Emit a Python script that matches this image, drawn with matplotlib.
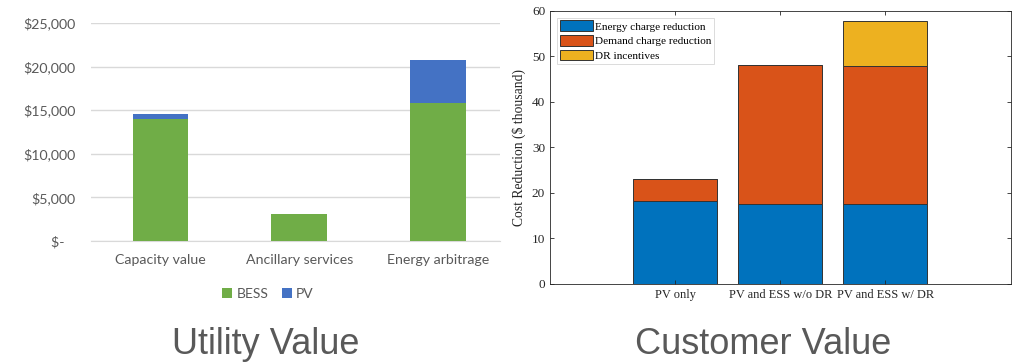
import matplotlib
matplotlib.use("Agg")
import matplotlib.pyplot as plt
import numpy as np

# left chart data (utility value, $)
util_cats = ['Capacity value', 'Ancillary services', 'Energy arbitrage']
util_bess = [14000, 3100, 15800]
util_pv = [550, 0, 5000]
util_ticks = [0, 5000, 10000, 15000, 20000, 25000]
util_ticklabels = ['$-   ', '$5,000', '$10,000', '$15,000', '$20,000', '$25,000']

# right chart data (customer value, $ thousand)
cust_cats = ['PV only', 'PV and ESS w/o DR', 'PV and ESS w/ DR']
energy_red = [18.3, 17.5, 17.5]
demand_red = [4.7, 30.5, 30.3]
dr_incent = [0, 0, 9.9]

W, H = 1025, 363
fig = plt.figure(figsize=(W / 100, H / 100), dpi=100)


def px_axes(x0, y0, x1, y1):
  return fig.add_axes([x0 / W, 1 - y1 / H, (x1 - x0) / W, (y1 - y0) / H])


# ---- Utility value (Excel style) ----
ax1 = px_axes(91, 23, 500, 241)
x = np.arange(len(util_cats))
ax1.bar(x, util_bess, width=0.4, color='#70AD47', label='BESS', zorder=3)
ax1.bar(x, util_pv, width=0.4, bottom=util_bess, color='#4472C4', label='PV', zorder=3)
ax1.set_xlim(-0.5, 2.446)
ax1.set_ylim(0, 25000)
ax1.set_yticks(util_ticks)
ax1.set_yticklabels(util_ticklabels)
ax1.set_xticks(x)
ax1.set_xticklabels(util_cats)
ax1.grid(axis='y', color='#D9D9D9', lw=1, zorder=0)
for s in ['top', 'right', 'left']:
  ax1.spines[s].set_visible(False)
ax1.spines['bottom'].set_color('#D9D9D9')
ax1.tick_params(length=0, labelsize=10.2, labelcolor='#595959', pad=11)
ax1.tick_params(axis='x', pad=9)
for t in ax1.get_xticklabels() + ax1.get_yticklabels():
  t.set_fontfamily('Lato')
ax1.legend(loc='center', bbox_to_anchor=(268 / W, 1 - 294 / H), bbox_transform=fig.transFigure,
           ncol=2, frameon=False, handlelength=0.7, handleheight=0.7, handletextpad=0.3,
           columnspacing=1.0, prop={'family': 'Lato', 'size': 10}, labelcolor='#595959')

# ---- Customer value (MATLAB style) ----
ax2 = px_axes(550, 10.7, 1011, 284)
x2 = np.arange(len(cust_cats))
b1 = np.array(energy_red)
b2 = b1 + np.array(demand_red)
ax2.bar(x2, energy_red, width=0.8, color='#0072BD', edgecolor='#333333', lw=0.7,
        label='Energy charge reduction')
ax2.bar(x2, demand_red, width=0.8, bottom=b1, color='#D95319', edgecolor='#333333', lw=0.7,
        label='Demand charge reduction')
ax2.bar(x2, dr_incent, width=0.8, bottom=b2, color='#EDB120', edgecolor='#333333', lw=0.7,
        label='DR incentives')
ax2.set_xlim(-1.195, 3.2)
ax2.set_ylim(0, 60)
ax2.set_yticks(range(0, 61, 10))
ax2.set_xticks(x2)
ax2.set_xticklabels(cust_cats)
ax2.tick_params(direction='in', top=True, right=True, length=3, width=0.6,
                labelsize=9.5, colors='#262626')
ax2.tick_params(axis='x', labelsize=8.9)
for s in ax2.spines.values():
  s.set_linewidth(0.6)
  s.set_color('#262626')
for t in ax2.get_xticklabels() + ax2.get_yticklabels():
  t.set_fontfamily('Liberation Serif')
ax2.set_ylabel('Cost Reduction ($ thousand)', family='Liberation Serif', fontsize=9.8,
               color='#262626', labelpad=4)
leg = ax2.legend(loc='upper left', bbox_to_anchor=(0.016, 0.975), fancybox=False,
                 prop={'family': 'Liberation Serif', 'size': 8.1},
                 handlelength=2.9, handleheight=1.1, handletextpad=0.2,
                 labelspacing=0.3, borderpad=0.25, borderaxespad=0)
leg.get_frame().set_edgecolor('#cccccc')
leg.get_frame().set_linewidth(0.6)

# titles under the two charts
fig.text(266 / W, 1 - 345 / H, 'Utility Value', ha='center', va='center',
         fontsize=26, color='#595959', family='Liberation Sans')
fig.text(763 / W, 1 - 345 / H, 'Customer Value', ha='center', va='center',
         fontsize=26, color='#595959', family='Liberation Sans')

fig.savefig('out.png', dpi=100)
